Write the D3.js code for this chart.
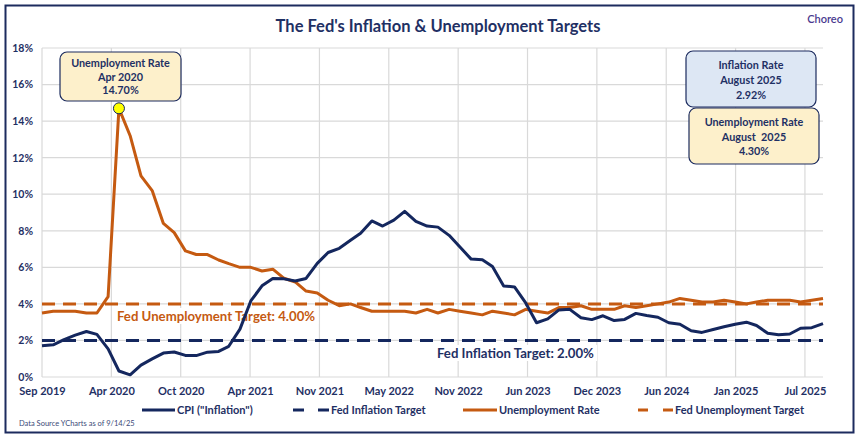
<!DOCTYPE html>
<html><head><meta charset="utf-8">
<script src="https://cdn.jsdelivr.net/npm/d3@7"></script>
<style>
html,body{margin:0;padding:0;background:#fff;}
svg{display:block;font-family:Lato,"Open Sans",sans-serif;}
</style></head>
<body>
<svg id="c" width="860" height="440"></svg>
<script>
// ---- DATA ----
const firstMonth = "2019-09";
const monthCount = 72; // Sep 2019 .. Aug 2025
const cpi = [
  1.71,1.76,2.05,2.29,
  2.49,2.33,1.54,0.33,0.12,0.65,0.99,1.31,1.37,1.18,1.17,1.36,
  1.40,1.68,2.62,4.16,4.99,5.39,5.37,5.25,5.39,6.22,6.81,7.04,
  7.48,7.87,8.54,8.26,8.58,9.06,8.52,8.26,8.20,7.75,7.11,6.45,
  6.41,6.04,4.98,4.93,4.05,2.97,3.18,3.67,3.70,3.24,3.14,3.35,
  3.09,3.15,3.48,3.36,3.27,2.97,2.89,2.53,2.44,2.60,2.75,2.89,
  3.00,2.82,2.39,2.31,2.35,2.67,2.70,2.92
];
const unemployment = [
  3.5,3.6,3.6,3.6,
  3.5,3.5,4.4,14.7,13.2,11.0,10.2,8.4,7.9,6.9,6.7,6.7,
  6.4,6.2,6.0,6.0,5.8,5.9,5.4,5.2,4.7,4.6,4.2,3.9,
  4.0,3.8,3.6,3.6,3.6,3.6,3.5,3.7,3.5,3.7,3.6,3.5,
  3.4,3.6,3.5,3.4,3.7,3.6,3.5,3.8,3.8,3.9,3.7,3.7,
  3.7,3.9,3.8,3.9,4.0,4.1,4.3,4.2,4.1,4.1,4.2,4.1,
  4.0,4.1,4.2,4.2,4.2,4.1,4.2,4.3
];
const inflationTarget = 2.0;
const unemploymentTarget = 4.0;
const yTicks = [0,2,4,6,8,10,12,14,16,18];
const xTickLabels = ["Sep 2019","Apr 2020","Oct 2020","Apr 2021","Nov 2021","May 2022",
  "Nov 2022","Jun 2023","Dec 2023","Jun 2024","Jan 2025","Jul 2025"];
const xTickStepDays = 192;
const legendLabels = ["CPI (\"Inflation\")","Fed Inflation Target","Unemployment Rate","Fed Unemployment Target"];

// ---- SETUP ----
const navy = "#14275e", orange = "#c55a11", textNavy = "#1f3064", grid = "#d9d9d9";
const svg = d3.select("#c");
const parse = d3.utcParse("%Y-%m");
const m0 = parse(firstMonth);
const dates = d3.range(monthCount).map(i => d3.utcDay.offset(d3.utcMonth.offset(m0, i + 1), -1));
const data = dates.map((d, i) => ({date: d, cpi: cpi[i], un: unemployment[i]}));

const L = 42, R = 823, T = 48, B = 377;
const x = d3.scaleUtc().domain([dates[0], dates[dates.length - 1]]).range([L, R]);
const y = d3.scaleLinear().domain([0, 18]).range([B, T]);
const xTickVals = xTickLabels.map((_, i) => d3.utcDay.offset(dates[0], xTickStepDays * i));

// outer border
svg.append("rect").attr("x", 5.5).attr("y", 5.5).attr("width", 848).attr("height", 427)
  .attr("fill", "#fff").attr("stroke", "#1c2b5e").attr("stroke-width", 2);

// title
svg.append("text").attr("x", 438).attr("y", 32).attr("text-anchor", "middle")
  .attr("font-size", 16.5).attr("font-weight", 700).attr("fill", textNavy)
  .text("The Fed's Inflation & Unemployment Targets");
svg.append("text").attr("x", 843).attr("y", 23).attr("text-anchor", "end")
  .attr("font-size", 11).attr("font-weight", 600).attr("fill", "#4a3a8f").text("Choreo");

// gridlines
svg.append("g").selectAll("line").data(yTicks).join("line")
  .attr("x1", L).attr("x2", R).attr("y1", d => y(d)).attr("y2", d => y(d))
  .attr("stroke", grid).attr("stroke-width", 1.2);
svg.append("g").selectAll("line").data(xTickVals).join("line")
  .attr("x1", d => x(d)).attr("x2", d => x(d)).attr("y1", T).attr("y2", B)
  .attr("stroke", grid).attr("stroke-width", 1.2);

// axes
const yAxis = d3.axisLeft(y).tickValues(yTicks).tickFormat(d => d + "%").tickSize(0).tickPadding(9);
const gy = svg.append("g").attr("transform", `translate(${L},0)`).call(yAxis);
gy.select(".domain").remove();
gy.selectAll("text").attr("font-size", 10.5).attr("font-weight", 700).attr("fill", textNavy)
  .attr("font-family", "Lato,sans-serif");
const xAxis = d3.axisBottom(x).tickValues(xTickVals).tickFormat((d, i) => xTickLabels[i]).tickSize(0).tickPadding(10);
const gx = svg.append("g").attr("transform", `translate(0,${B})`).call(xAxis);
gx.select(".domain").remove();
gx.selectAll("text").attr("font-size", 11).attr("font-weight", 700).attr("fill", textNavy)
  .attr("font-family", "Lato,sans-serif");

// target labels (white background)
function tlabel(txt, cx, cy, col) {
  const t = svg.append("text").attr("x", cx).attr("y", cy).attr("font-size", 13.2)
    .attr("font-weight", 700).attr("fill", col).text(txt);
  const bb = t.node().getBBox();
  svg.insert("rect", () => t.node()).attr("x", bb.x - 3).attr("y", bb.y).attr("width", bb.width + 6)
    .attr("height", bb.height).attr("fill", "#fff");
}
tlabel("Fed Unemployment Target: 4.00%", 117, 321, orange);
tlabel("Fed Inflation Target: 2.00%", 437, 358, textNavy);

// target lines
svg.append("line").attr("x1", L).attr("x2", R).attr("y1", y(unemploymentTarget)).attr("y2", y(unemploymentTarget))
  .attr("stroke", orange).attr("stroke-width", 3).attr("stroke-dasharray", "13,8");
svg.append("line").attr("x1", L).attr("x2", R).attr("y1", y(inflationTarget)).attr("y2", y(inflationTarget))
  .attr("stroke", navy).attr("stroke-width", 3).attr("stroke-dasharray", "13,8");

// series
const lineCpi = d3.line().x(d => x(d.date)).y(d => y(d.cpi));
const lineUn = d3.line().x(d => x(d.date)).y(d => y(d.un));
svg.append("path").datum(data).attr("d", lineUn).attr("fill", "none").attr("stroke", orange)
  .attr("stroke-width", 3).attr("stroke-linejoin", "round");
svg.append("path").datum(data).attr("d", lineCpi).attr("fill", "none").attr("stroke", navy)
  .attr("stroke-width", 3).attr("stroke-linejoin", "round");

// peak marker
const peak = data[d3.maxIndex(data, d => d.un)];
svg.append("circle").attr("cx", x(peak.date)).attr("cy", y(peak.un)).attr("r", 5.5)
  .attr("fill", "#ffff00").attr("stroke", navy).attr("stroke-width", 1);

// callout boxes
function box(x0, y0, w, h, fill, lines, ys) {
  svg.append("rect").attr("x", x0).attr("y", y0).attr("width", w).attr("height", h).attr("rx", 7)
    .attr("fill", fill).attr("stroke", "#1c2b5e").attr("stroke-width", 1.2);
  lines.forEach((l, i) => svg.append("text").attr("x", x0 + w / 2).attr("y", ys[i])
    .attr("text-anchor", "middle").attr("font-size", 10.8).attr("font-weight", 700)
    .attr("fill", textNavy).style("white-space", "pre").text(l));
}
const last = data[data.length - 1];
box(60, 52, 121, 49, "#fdf0cb",
  ["Unemployment Rate", d3.utcFormat("%b %Y")(peak.date), peak.un.toFixed(2) + "%"], [67, 81, 94]);
box(686, 51, 130, 56, "#dde7f4",
  ["Inflation Rate", "August 2025", last.cpi.toFixed(2) + "%"], [69, 84, 99]);
box(689, 108, 130, 56, "#fdf0cb",
  ["Unemployment Rate", "August  2025", last.un.toFixed(2) + "%"], [126, 141, 155]);

// legend
const lg = svg.append("g");
const items = [
  {x1: 142, x2: 175, tx: 177, col: navy, dash: null},
  {x1: 293, x2: 330, tx: 331, col: navy, dash: "11,14"},
  {x1: 463, x2: 497, tx: 499, col: orange, dash: null},
  {x1: 638, x2: 674, tx: 675, col: orange, dash: "10,15"}
];
items.forEach((it, i) => {
  lg.append("line").attr("x1", it.x1).attr("x2", it.x2).attr("y1", 410).attr("y2", 410)
    .attr("stroke", it.col).attr("stroke-width", 3).attr("stroke-dasharray", it.dash);
  lg.append("text").attr("x", it.tx).attr("y", 414).attr("font-size", 11).attr("font-weight", 700)
    .attr("fill", textNavy).text(legendLabels[i]);
});

svg.append("text").attr("x", 19).attr("y", 426).attr("font-size", 7.5).attr("fill", "#3b4a78")
  .text("Data Source YCharts as of 9/14/25");
</script>
</body></html>
